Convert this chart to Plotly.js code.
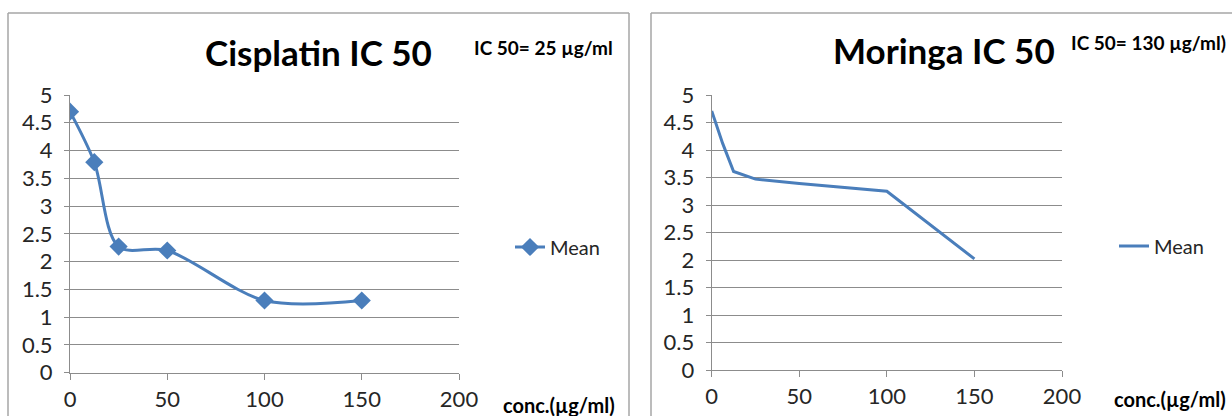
<!DOCTYPE html>
<html>
<head>
<meta charset="utf-8">
<script src="https://cdn.plot.ly/plotly-3.0.1.min.js"></script>
<style>
html,body{margin:0;padding:0;background:#fff;}
#chart{width:1232px;height:416px;}
</style>
</head>
<body>
<div id="chart"></div>
<script>
// Data
const cisplatinConc = [0, 12.5, 25, 50, 100, 150];
const cisplatinMean = [4.7, 3.79, 2.27, 2.2, 1.3, 1.3];
const moringaConc = [0, 6.25, 12.5, 25, 50, 100, 150];
const moringaMean = [4.71, 4.12, 3.61, 3.47, 3.39, 3.25, 2.02];
const yTicks = [0, 0.5, 1, 1.5, 2, 2.5, 3, 3.5, 4, 4.5, 5];
const yTickText = ['0', '0.5', '1', '1.5', '2', '2.5', '3', '3.5', '4', '4.5', '5'];
const xTicks = [0, 50, 100, 150, 200];
const xTickText = ['0', '50', '100', '150', '200'];
const seriesName = 'Mean';
const titleLeft = 'Cisplatin IC 50';
const titleRight = 'Moringa IC 50';
const noteLeft = 'IC 50= 25 µg/ml';
const noteRight = 'IC 50= 130 µg/ml)';
const xLabel = 'conc.(µg/ml)';

const W = 1232, H = 416;
const px = x => x / W;
const py = y => (H - y) / H;

const blue = '#4a7ebb';
const grid = '#8c8c8c';
const fam = 'Lato, "Open Sans", sans-serif';
const tickSize = 22;

const traces = [
  {
    x: cisplatinConc, y: cisplatinMean, name: seriesName,
    type: 'scatter', mode: 'lines+markers',
    line: {color: blue, width: 3, shape: 'spline', smoothing: 0.9},
    marker: {symbol: 'diamond', size: 14, color: blue},
    xaxis: 'x', yaxis: 'y', legend: 'legend'
  },
  {
    x: moringaConc, y: moringaMean, name: seriesName,
    type: 'scatter', mode: 'lines',
    line: {color: blue, width: 3},
    xaxis: 'x2', yaxis: 'y2', legend: 'legend2'
  }
];

function xa(domain, anchor) {
  return {
    domain: domain, anchor: anchor, range: [0, 200], tickvals: xTicks, ticktext: xTickText,
    showgrid: false, zeroline: false, showline: true, linecolor: grid, linewidth: 1,
    ticks: 'outside', ticklen: 6, tickcolor: grid,
    tickfont: {family: fam, size: tickSize, color: '#262626'},
    ticklabelstandoff: 1, fixedrange: true
  };
}
function ya(domain, anchor) {
  return {
    domain: domain, anchor: anchor, range: [0, 5], tickvals: yTicks, ticktext: yTickText,
    showgrid: true, gridcolor: grid, gridwidth: 1, zeroline: false,
    showline: true, linecolor: grid, linewidth: 1,
    ticks: 'outside', ticklen: 5, tickcolor: grid,
    tickfont: {family: fam, size: tickSize, color: '#262626'},
    ticklabelstandoff: 7, fixedrange: true
  };
}

const border = '#a6a6a6';
const shapes = [
  {type: 'line', xref: 'paper', yref: 'paper', x0: px(8), x1: px(8), y0: py(13), y1: py(420), line: {color: border, width: 1.5}},
  {type: 'line', xref: 'paper', yref: 'paper', x0: px(8), x1: px(629), y0: py(13), y1: py(13), line: {color: border, width: 1.5}},
  {type: 'line', xref: 'paper', yref: 'paper', x0: px(629), x1: px(629), y0: py(13), y1: py(420), line: {color: border, width: 1.5}},
  {type: 'line', xref: 'paper', yref: 'paper', x0: px(651), x1: px(651), y0: py(13), y1: py(420), line: {color: border, width: 1.5}},
  {type: 'line', xref: 'paper', yref: 'paper', x0: px(651), x1: px(1240), y0: py(13), y1: py(13), line: {color: border, width: 1.5}}
];

const annotations = [
  {text: '<b>' + titleLeft + '</b>', x: px(318), y: py(52), xref: 'paper', yref: 'paper', showarrow: false, xanchor: 'center', yanchor: 'middle', font: {family: fam, size: 35, color: '#000'}},
  {text: '<b>' + titleRight + '</b>', x: px(944), y: py(50), xref: 'paper', yref: 'paper', showarrow: false, xanchor: 'center', yanchor: 'middle', font: {family: fam, size: 35, color: '#000'}},
  {text: '<b>' + noteLeft + '</b>', x: px(543), y: py(47), xref: 'paper', yref: 'paper', showarrow: false, xanchor: 'center', yanchor: 'middle', font: {family: fam, size: 19, color: '#000'}},
  {text: '<b>' + noteRight + '</b>', x: px(1148), y: py(43), xref: 'paper', yref: 'paper', showarrow: false, xanchor: 'center', yanchor: 'middle', font: {family: fam, size: 19, color: '#000'}},
  {text: '<b>' + xLabel + '</b>', x: px(559), y: py(405), xref: 'paper', yref: 'paper', showarrow: false, xanchor: 'center', yanchor: 'middle', font: {family: fam, size: 20, color: '#000'}},
  {text: '<b>' + xLabel + '</b>', x: px(1170), y: py(399), xref: 'paper', yref: 'paper', showarrow: false, xanchor: 'center', yanchor: 'middle', font: {family: fam, size: 20, color: '#000'}}
];

const legFont = {family: fam, size: 20, color: '#262626'};
const layout = {
  width: W, height: H,
  margin: {l: 0, r: 0, t: 0, b: 0},
  paper_bgcolor: '#fff', plot_bgcolor: '#fff',
  xaxis: xa([px(70), px(459)], 'y'),
  yaxis: ya([py(372.7), py(95)], 'x'),
  xaxis2: xa([px(711.7), px(1062)], 'y2'),
  yaxis2: ya([py(370), py(95)], 'x2'),
  showlegend: true,
  legend: {x: px(510), y: py(247), xanchor: 'left', yanchor: 'middle', font: legFont, bgcolor: 'rgba(0,0,0,0)', itemwidth: 30, tracegroupgap: 0},
  legend2: {x: px(1114), y: py(246), xanchor: 'left', yanchor: 'middle', font: legFont, bgcolor: 'rgba(0,0,0,0)', itemwidth: 30, tracegroupgap: 0},
  shapes: shapes,
  annotations: annotations
};

Plotly.newPlot('chart', traces, layout, {displayModeBar: false, staticPlot: true});
</script>
</body>
</html>
